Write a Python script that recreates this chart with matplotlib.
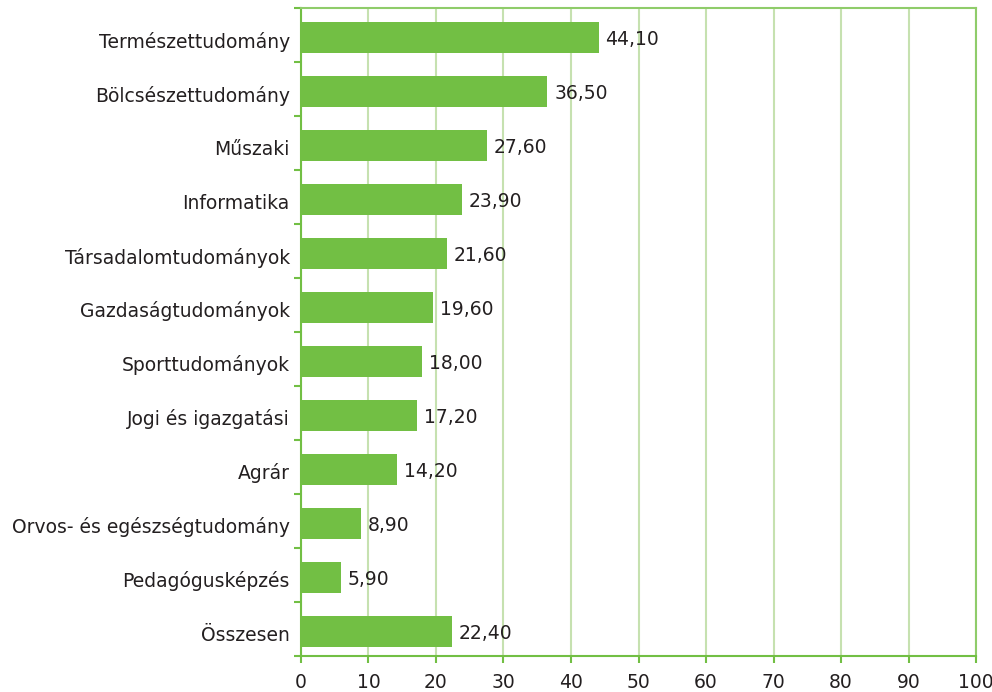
import matplotlib
matplotlib.use("Agg")
import matplotlib.pyplot as plt

categories = ["Természettudomány", "Bölcsészettudomány", "Műszaki", "Informatika",
              "Társadalomtudományok", "Gazdaságtudományok", "Sporttudományok",
              "Jogi és igazgatási", "Agrár", "Orvos- és egészségtudomány",
              "Pedagógusképzés", "Összesen"]
values = [44.10, 36.50, 27.60, 23.90, 21.60, 19.60, 18.00, 17.20, 14.20, 8.90, 5.90, 22.40]
xticks = [0, 10, 20, 30, 40, 50, 60, 70, 80, 90, 100]

bar_color = "#72bf44"
grid_color = "#c6e1b0"
axis_color = "#72bf44"
text_color = "#231f20"

plt.rcParams['font.family'] = ['DejaVu Sans']
FS = 13.5

fig = plt.figure(figsize=(9.92, 6.92), dpi=100)
ax = fig.add_axes([0.3034, 0.052, 0.6805, 0.936])

n = len(categories)
ypos = list(range(n))
ax.barh([y + 0.045 for y in ypos], values, height=0.57, color=bar_color, zorder=3)
for y, v in zip(ypos, values):
    ax.text(v + 1.0, y + 0.08, f"{v:.2f}".replace(".", ","), va="center", ha="left",
            fontsize=FS, color=text_color)

ax.set_ylim(n - 0.5, -0.5)
ax.set_xlim(0, 100)
ax.set_xticks(xticks)
ax.set_xticklabels([str(t) for t in xticks], fontsize=FS, color=text_color)
ax.set_yticks([y + 0.08 for y in ypos])
ax.set_yticklabels(categories, fontsize=FS, color=text_color)
ax.tick_params(axis='y', length=0, pad=8)
ax.set_yticks([i + 0.5 for i in range(-1, n)], minor=True)
ax.tick_params(axis='y', which='minor', length=5, color=axis_color, width=1.5, direction='out')
ax.tick_params(axis='x', length=5, color=axis_color, width=1.5, pad=7)

ax.grid(axis='x', color=grid_color, linewidth=1.5, zorder=0)
for s in ['left', 'bottom']:
    ax.spines[s].set_color(axis_color)
    ax.spines[s].set_linewidth(1.5)
for s in ['top', 'right']:
    ax.spines[s].set_color("#8fcc6a")
    ax.spines[s].set_linewidth(1.5)

fig.savefig("out.png", dpi=100)
